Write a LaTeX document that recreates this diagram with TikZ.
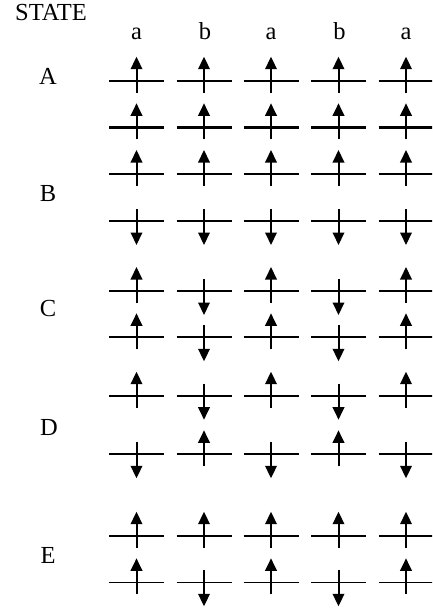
\documentclass[tikz,border=0pt]{standalone}
\usepackage{fontspec}
\setmainfont{Liberation Serif}
\usetikzlibrary{arrows.meta}
\begin{document}
\begin{tikzpicture}[x=1bp,y=-1bp,
  lbl/.style={inner sep=0pt,anchor=base,font=\fontsize{24.5bp}{28bp}\selectfont},
  spin/.style={line width=2bp,-{Triangle[length=12.5bp,width=11.5bp]}},
  pics/orb/.style n args={2}{code={
    \draw[line width=#2] (-27.5,0) -- (27.5,0);
    \draw[spin] (0,{12*#1}) -- (0,{-24*#1});
  }}]
\useasboundingbox (0,0) rectangle (432,610);
\clip (0,0) rectangle (432,610);
% header
\node[lbl,anchor=base west] (state) at (15,21) {STATE};
\node[lbl] (c1) at (136.5,39.3) {a};
\node[lbl] (c2) at (205,39.3) {b};
\node[lbl] (c3) at (271,39.3) {a};
\node[lbl] (c4) at (339.5,39.3) {b};
\node[lbl] (c5) at (406,39.3) {a};
% state labels
\node[lbl] (sA) at (48,85) {A};
\node[lbl] (sB) at (48,201.7) {B};
\node[lbl] (sC) at (48,316) {C};
\node[lbl] (sD) at (49,435) {D};
\node[lbl] (sE) at (48,563) {E};
% levels: y / horizontal width / directions (1 = up, -1 = down)
\foreach \yy/\w/\da/\db/\dc/\dd/\de in {
   80.7/1.8/1/1/1/1/1,
  127.3/2.6/1/1/1/1/1,
  174.0/1.9/1/1/1/1/1,
  221.0/1.9/-1/-1/-1/-1/-1,
  291.0/1.9/1/-1/1/-1/1,
  337.3/1.9/1/-1/1/-1/1,
  395.7/1.9/1/-1/1/-1/1,
  454.3/1.9/-1/1/-1/1/-1,
  535.7/2.2/1/1/1/1/1,
  582.3/1.6/1/-1/1/-1/1}
{
  \pic at (136.5,\yy) {orb={\da}{\w bp}};
  \pic at (204,\yy)   {orb={\db}{\w bp}};
  \pic at (271,\yy)   {orb={\dc}{\w bp}};
  \pic at (338.5,\yy) {orb={\dd}{\w bp}};
  \pic at (406,\yy)   {orb={\de}{\w bp}};
}
\end{tikzpicture}
\end{document}
